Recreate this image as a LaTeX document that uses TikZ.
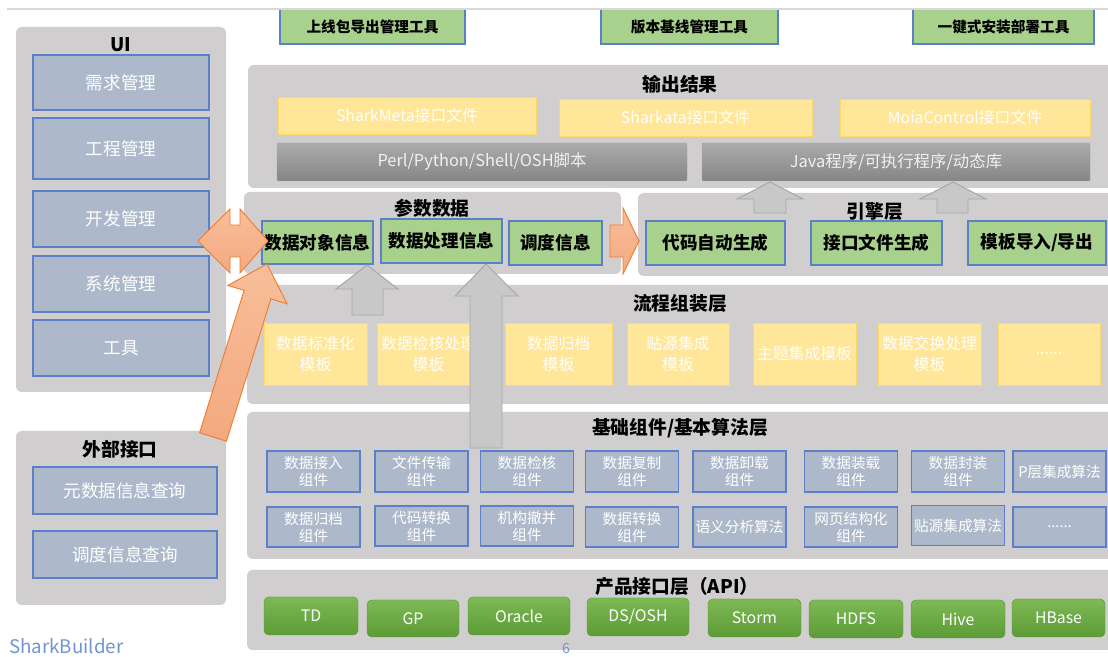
\documentclass[tikz,border=0pt]{standalone}
\usepackage{fontspec}
\setmainfont{Noto Sans CJK SC}

\definecolor{panelgray}{HTML}{D0CECE}
\definecolor{boxblue}{HTML}{ADB9CA}
\definecolor{lineblue}{HTML}{5B80C8}
\definecolor{infogreen}{HTML}{A9D18E}
\definecolor{tmplyellow}{HTML}{FFE699}
\definecolor{tmplline}{HTML}{FFD966}
\definecolor{scripttop}{HTML}{ABABAB}
\definecolor{scriptbot}{HTML}{858585}
\definecolor{btntop}{HTML}{7DB955}
\definecolor{btnbot}{HTML}{5C9B35}
\definecolor{orangetop}{HTML}{F7BE9A}
\definecolor{orangebot}{HTML}{F4A97F}
\definecolor{orangeline}{HTML}{ED7D31}
\definecolor{arrowfill}{HTML}{C8C8C8}
\definecolor{arrowline}{HTML}{A6A6A6}
\definecolor{sbblue}{HTML}{7394D0}

\begin{document}
\begin{tikzpicture}[x=0.03cm, y=-0.03cm,
    wh/.style 2 args={minimum width={#1*0.03cm}, minimum height={#2*0.03cm}},
    panel/.style={fill=panelgray, rounded corners=5pt, inner sep=0pt},
    layertitle/.style={font=\fontsize{16}{18}\selectfont\bfseries},
    uibox/.style={fill=boxblue, draw=lineblue, line width=0.9pt, inner sep=0pt, text=white, font=\fontsize{15}{18}\selectfont},
    toolbox/.style={fill=infogreen, draw=lineblue, line width=0.9pt, inner sep=0pt, font=\fontsize{12.5}{15}\selectfont\bfseries},
    infobox/.style={fill=infogreen, draw=lineblue, line width=0.9pt, inner sep=0pt, font=\fontsize{15}{18}\selectfont\bfseries},
    outbox/.style={fill=tmplyellow, draw=tmplline, line width=0.6pt, inner sep=0pt, text=white, font=\fontsize{13.5}{16}\selectfont},
    scriptbox/.style={top color=scripttop, bottom color=scriptbot, draw=arrowline, line width=0.4pt, rounded corners=1pt, inner sep=0pt, text=white!94!black, font=\fontsize{14}{16}\selectfont},
    tmplbox/.style={fill=tmplyellow, draw=tmplline, line width=0.6pt, inner sep=0pt, text=white, align=center, font=\fontsize{13.5}{18}\selectfont},
    compbox/.style={fill=boxblue, draw=lineblue, line width=0.9pt, inner sep=0pt, text=white, align=center, font=\fontsize{12.5}{14.5}\selectfont},
    apibtn/.style={top color=btntop, bottom color=btnbot, draw=btnbot, line width=0.4pt, rounded corners=4pt, inner sep=0pt, text=white, font=\fontsize{13.5}{16}\selectfont},
    orangearrow/.style={top color=orangetop, bottom color=orangebot, draw=orangeline, line width=0.8pt},
    grayarrow/.style={fill=arrowfill, draw=arrowline, line width=0.8pt}
]
    \useasboundingbox[fill=white] (0,0) rectangle (1108,657);

    % top tools
    \node[toolbox, wh={185}{35}] (export) at (372.5,26.5) {上线包导出管理工具};
    \node[toolbox, wh={177}{35}] (baseline) at (689.5,26.5) {版本基线管理工具};
    \node[toolbox, wh={181}{35}] (deploy) at (1003.5,26.5) {一键式安装部署工具};
    \draw[draw=black!15, line width=2pt] (7,9) -- (1108,9);

    % UI
    \node[panel, wh={210}{365}] (ui) at (121,209.5) {};
    \node[layertitle] (uiT) at (121,45) {UI};
    \node[uibox, wh={176}{55}] (req) at (121,82.5) {需求管理};
    \node[uibox, wh={176}{61}] (proj) at (121,148.5) {工程管理};
    \node[uibox, wh={176}{56}] (dev) at (121,219) {开发管理};
    \node[uibox, wh={176}{56}] (sys) at (121,284) {系统管理};
    \node[uibox, wh={176}{56}] (tools) at (121,348) {工具};

    % external interface
    \node[panel, wh={210}{174}] (ext) at (121,518) {};
    \node[layertitle] (extT) at (120,449) {外部接口};
    \node[uibox, wh={184}{47}] (meta) at (125,490.5) {元数据信息查询};
    \node[uibox, wh={184}{47}] (sched) at (125,554.5) {调度信息查询};

    % output
    \node[panel, wh={867}{123}] (out) at (681.5,126.5) {};
    \node[layertitle] (outT) at (680,84) {输出结果};
    \node[outbox, wh={258}{37}] (smeta) at (407,115.5) {SharkMeta接口文件};
    \node[outbox, wh={253}{37}] (sdata) at (685.5,117.5) {Sharkata接口文件};
    \node[outbox, wh={250}{37}] (moia) at (965,117.5) {MoiaControl接口文件};
    \node[scriptbox, wh={410}{38}] (perl) at (482,162) {Perl/Python/Shell/OSH脚本};
    \node[scriptbox, wh={388}{38}] (java) at (896,162) {Java程序/可执行程序/动态库};

    % parameters
    \node[panel, wh={377}{82}] (param) at (432.5,233) {};
    \node[layertitle] (paramT) at (432,208) {参数数据};
    \node[infobox, wh={111}{43}] (obj) at (317.5,242.5) {数据对象信息};
    \node[infobox, wh={121}{44}] (proc) at (441.5,241) {数据处理信息};
    \node[infobox, wh={93}{44}] (dispatch) at (555.5,243) {调度信息};

    % engine
    \node[panel, wh={477}{83}] (engine) at (876.5,234.5) {};
    \node[layertitle] (engineT) at (875,211) {引擎层};
    \node[infobox, wh={139}{44}] (codegen) at (715.5,243) {代码自动生成};
    \node[infobox, wh={131}{44}] (ifgen) at (876.5,243) {接口文件生成};
    \node[infobox, wh={138}{44}] (tmplio) at (1037,243) {模板导入/导出};

    % flow
    \node[panel, wh={868}{119}] (flow) at (681,344.5) {};
    \node[layertitle] (flowT) at (680,303) {流程组装层};
    \node[tmplbox, wh={103}{62}] (t1) at (315.5,354) {数据标准化\\模板};
    \node[tmplbox, wh={103}{62}] (t2) at (428.5,354) {数据检核处理\\模板};
    \node[tmplbox, wh={107}{62}] (t3) at (558.5,354) {数据归档\\模板};
    \node[tmplbox, wh={102}{62}] (t4) at (678,354) {贴源集成\\模板};
    \node[tmplbox, wh={103}{62}] (t5) at (804.5,354) {主题集成模板};
    \node[tmplbox, wh={103}{62}] (t6) at (929.5,354) {数据交换处理\\模板};
    \node[tmplbox, wh={102}{62}] (t7) at (1049,354) {......};

    % components
    \node[panel, wh={868}{147}] (base) at (681,485.5) {};
    \node[layertitle] (baseT) at (680,428) {基础组件/基本算法层};
    \node[compbox, wh={93}{41}] (c1) at (313.5,471.5) {数据接入\\组件};
    \node[compbox, wh={93}{41}] (c2) at (421.5,471.5) {文件传输\\组件};
    \node[compbox, wh={93}{41}] (c3) at (527,471.5) {数据检核\\组件};
    \node[compbox, wh={93}{41}] (c4) at (632,471.5) {数据复制\\组件};
    \node[compbox, wh={93}{41}] (c5) at (739.5,471.5) {数据卸载\\组件};
    \node[compbox, wh={93}{41}] (c6) at (851,471.5) {数据装载\\组件};
    \node[compbox, wh={93}{41}] (c7) at (958,471.5) {数据封装\\组件};
    \node[compbox, wh={93}{41}] (c8) at (1059.5,471.5) {P层集成算法};
    \node[compbox, wh={93}{40}] (d1) at (313.5,527) {数据归档\\组件};
    \node[compbox, wh={93}{40}] (d2) at (421.5,526) {代码转换\\组件};
    \node[compbox, wh={93}{40}] (d3) at (527,526) {机构撤并\\组件};
    \node[compbox, wh={93}{40}] (d4) at (632,527) {数据转换\\组件};
    \node[compbox, wh={93}{40}] (d5) at (739.5,527) {语义分析算法};
    \node[compbox, wh={93}{40}] (d6) at (851,527) {网页结构化\\组件};
    \node[compbox, wh={93}{40}] (d7) at (958,525.5) {贴源集成算法};
    \node[compbox, wh={93}{40}] (d8) at (1059.5,527) {......};

    % api
    \node[panel, wh={868}{80}] (api) at (681,610) {};
    \node[layertitle] (apiT) at (677,586) {产品接口层（API）};
    \node[apibtn, wh={94}{38}] (td) at (311,616) {TD};
    \node[apibtn, wh={92}{37}] (gp) at (413,618.5) {GP};
    \node[apibtn, wh={102}{38}] (oracle) at (519,616) {Oracle};
    \node[apibtn, wh={102}{38}] (ds) at (638,617) {DS/OSH};
    \node[apibtn, wh={93}{38}] (storm) at (754.5,618) {Storm};
    \node[apibtn, wh={94}{38}] (hdfs) at (856,619) {HDFS};
    \node[apibtn, wh={94}{38}] (hive) at (958,619) {Hive};
    \node[apibtn, wh={93}{38}] (hbase) at (1058.5,618) {HBase};

    % block arrows
    \draw[grayarrow] (754,213) -- (754,199) -- (737,199) -- (770,182) -- (803,199) -- (786,199) -- (786,213) -- cycle;
    \draw[grayarrow] (937,213) -- (937,199) -- (920,199) -- (953,182) -- (986,199) -- (968,199) -- (968,213) -- cycle;
    \draw[grayarrow] (352,315) -- (352,289) -- (336,289) -- (367,265) -- (398,289) -- (383,289) -- (383,315) -- cycle;
    \draw[grayarrow] (470,448) -- (470,296) -- (455,296) -- (486,264) -- (518,296) -- (502,296) -- (502,448) -- cycle;

    \draw[orangearrow] (198,241) -- (230,209) -- (230,225) -- (240,225) -- (240,209) -- (268,241)
        -- (240,273) -- (240,257) -- (230,257) -- (230,273) -- cycle;
    \draw[orangearrow] (610,225) -- (623,225) -- (623,208) -- (639,241) -- (623,274) -- (623,257) -- (610,257) -- cycle;
    \draw[orangearrow] (199.6,432.8) -- (244.1,290.4) -- (227.9,285.4) -- (267,264) -- (287.1,303.8)
        -- (270.9,298.8) -- (226.4,441.2) -- cycle;

    \node[anchor=west, text=sbblue, font=\fontsize{16}{18}\selectfont] (brand) at (5,646) {SharkBuilder};
    \node[text=sbblue, font=\fontsize{12}{14}\selectfont] (pagenum) at (566,648) {6};
\end{tikzpicture}
\end{document}
